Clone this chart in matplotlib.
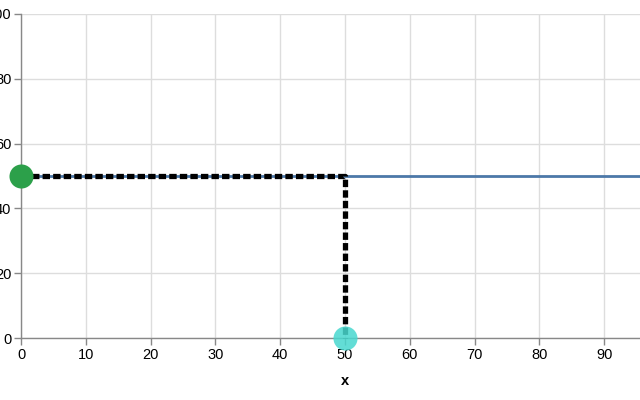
import matplotlib
matplotlib.use("Agg")
import matplotlib.pyplot as plt

plt.rcParams["font.family"] = ["Liberation Sans", "DejaVu Sans"]

# horizontal rule value and the point picked on it
rule_x = [0, 100]
rule_y = [50, 50]
pick_x = 50
pick_y = 50

x_ticks = [0, 10, 20, 30, 40, 50, 60, 70, 80, 90]
y_ticks = [0, 20, 40, 60, 80, 100]

x_max = (640 - 21) / 6.48  # the right part of the chart is cut off

fig = plt.figure(figsize=(6.4, 4.0), dpi=100)
ax = fig.add_axes([21 / 640, 1 - 338 / 400, (640 - 21) / 640, (338 - 14) / 400])

ax.plot(rule_x, rule_y, color="#4c78a8", linewidth=2, zorder=3)

ax.plot(
    [0, pick_x, pick_x],
    [pick_y, pick_y, 0],
    color="black",
    linewidth=3.8,
    linestyle=(0, (1.4, 0.6)),
    dash_capstyle="butt",
    zorder=4,
    clip_on=False,
)

ax.scatter([0], [pick_y], s=300, color="#2ca04a", zorder=5, clip_on=False, linewidths=0)
ax.scatter([pick_x], [0], s=300, color="#48d8cf", alpha=0.85, zorder=5, clip_on=False, linewidths=0)

ax.set_xlim(0, x_max)
ax.set_ylim(0, 100)
ax.set_xticks(x_ticks)
ax.set_yticks(y_ticks)

ax.grid(True, color="#dddddd", linewidth=1)
ax.set_axisbelow(True)

for side in ["top", "right"]:
    ax.spines[side].set_visible(False)
for side in ["left", "bottom"]:
    ax.spines[side].set_color("#888888")
    ax.spines[side].set_linewidth(1)

ax.tick_params(colors="#888888", length=5, width=1, labelcolor="black", labelsize=10.5, pad=2)

ax.set_xlabel("x", fontsize=10.5, fontweight="bold")
ax.xaxis.set_label_coords(50 / x_max, -0.112)

fig.savefig("out.png", dpi=100)
